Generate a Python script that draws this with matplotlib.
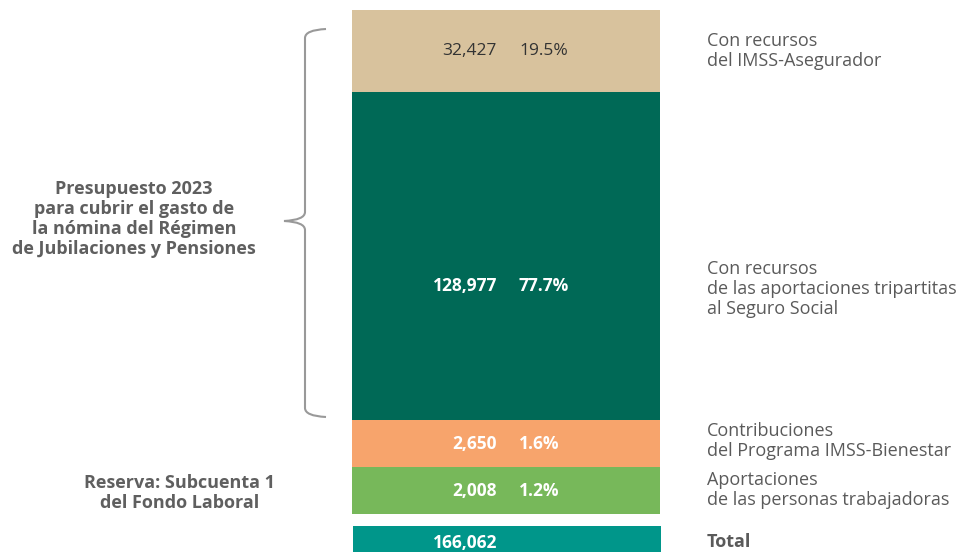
import numpy as np
import matplotlib.pyplot as plt
from matplotlib.path import Path
from matplotlib.patches import PathPatch

plt.rcParams['font.family'] = ['Open Sans', 'DejaVu Sans']

# millones de pesos, presupuesto 2023
labels = ["Con recursos\ndel IMSS-Asegurador",
          "Con recursos\nde las aportaciones tripartitas\nal Seguro Social",
          "Contribuciones\ndel Programa IMSS-Bienestar",
          "Aportaciones\nde las personas trabajadoras"]
values = [32427, 128977, 2650, 2008]
shares = [19.5, 77.7, 1.6, 1.2]
total = 166062
colors = ["#D8C29D", "#006956", "#F7A46C", "#77B85A"]
text_colors = ["#333333", "white", "white", "white"]
text_weights = ["medium", "bold", "bold", "bold"]
label_frac = [0.5, 0.59, 0.5, 0.5]  # posicion vertical de la etiqueta dentro del tramo
total_color = "#00968A"

# tramos pequeños con altura mínima para que se lean
min_h = 18500
heights = np.maximum(values, min_h)
bottoms = np.concatenate([[0], np.cumsum(heights)[:-1]])
u = heights.sum() / 504.0  # unidades por pixel

fig = plt.figure(figsize=(9.69, 5.52), dpi=100)
ax = fig.add_axes([0, 0, 1, 1])
ax.set_xlim(0, 969)
ax.set_ylim(542 * u, -10 * u)
ax.axis('off')

ax.bar(506, heights, bottom=bottoms, width=308, color=colors, align='center')
for b, h, v, s, c, w, f in zip(bottoms, heights, values, shares, text_colors,
                               text_weights, label_frac):
    ax.text(497, b + h * f, f"{v:,}", ha='right', va='center', color=c,
            fontsize=12.5, fontweight=w)
    ax.text(519, b + h * f, f"{s}%", ha='left', va='center', color=c,
            fontsize=12.5, fontweight=w)

# barra del total
tb = heights.sum() + 12 * u
ax.bar(507, min_h, bottom=tb, width=308, color=total_color)
ax.text(497, tb + 17 * u, f"{total:,}", ha='right', va='center', color='white',
        fontsize=12.5, fontweight='bold')

# capa en pixeles para textos laterales y la llave
ov = fig.add_axes([0, 0, 1, 1])
ov.set_xlim(0, 969)
ov.set_ylim(552, 0)
ov.axis('off')
ov.patch.set_alpha(0)

gray = "#5a5a5a"
right_y = [51, 289, 441, 490]
for lab, y in zip(labels, right_y):
    ov.text(707, y, lab, ha='left', va='center', color=gray, fontsize=13,
            linespacing=1.15)
ov.text(707, 542, "Total", ha='left', va='center', color=gray, fontsize=13,
        fontweight='bold')

ov.text(134, 219, "Presupuesto 2023\npara cubrir el gasto de\nla nómina del Régimen\n"
        "de Jubilaciones y Pensiones", ha='center', va='center', color="#5f5f5f",
        fontsize=13, fontweight='bold', linespacing=1.15)
ov.text(180, 493, "Reserva: Subcuenta 1\ndel Fondo Laboral", ha='center', va='center',
        color="#5f5f5f", fontsize=13, fontweight='bold', linespacing=1.15)

# llave
verts = [(326, 29), (305, 30), (305, 38), (305, 212), (305, 220), (284, 221),
         (305, 222), (305, 230), (305, 408), (305, 416), (326, 417)]
codes = [Path.MOVETO, Path.CURVE3, Path.CURVE3, Path.LINETO, Path.CURVE3, Path.CURVE3,
         Path.CURVE3, Path.CURVE3, Path.LINETO, Path.CURVE3, Path.CURVE3]
ov.add_patch(PathPatch(Path(verts, codes), facecolor='none', edgecolor="#999999", lw=1.5))

fig.savefig("out.png", dpi=100)
